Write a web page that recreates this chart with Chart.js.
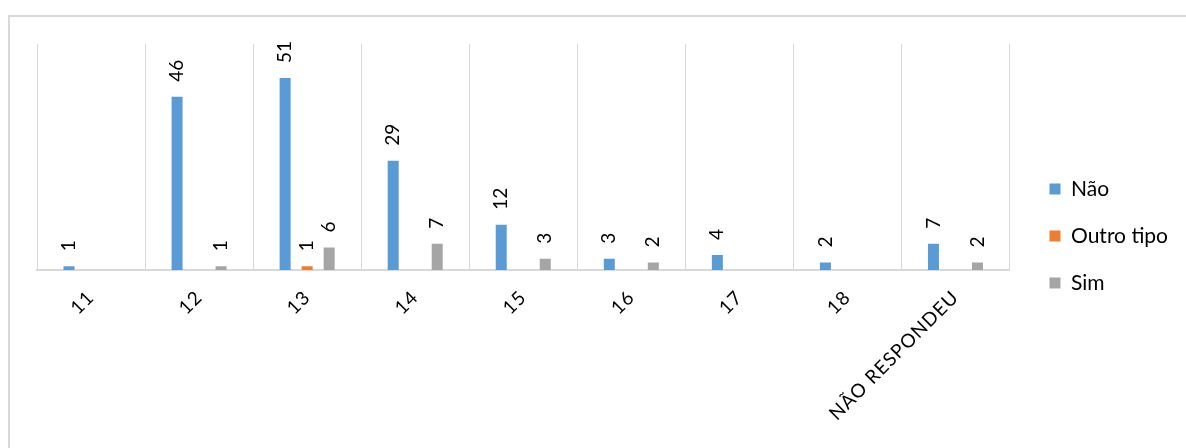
<!DOCTYPE html>
<html>
<head>
<meta charset="utf-8">
<script src="https://cdn.jsdelivr.net/npm/chart.js@4/dist/chart.umd.min.js"></script>
<style>
  html, body { margin: 0; padding: 0; background: #fff; overflow: hidden; }
  .frame { position: absolute; left: 8px; top: 15px; width: 1300px; height: 600px;
           border-left: 2px solid #d9d9d9; border-top: 2px solid #d9d9d9; }
  #chart { position: absolute; left: 0; top: 0; }
</style>
</head>
<body>
<div class="frame"></div>
<canvas id="chart" width="1186" height="448"></canvas>
<script>
const idades = ['11', '12', '13', '14', '15', '16', '17', '18', 'NÃO RESPONDEU'];
const nao = [1, 46, 51, 29, 12, 3, 4, 2, 7];
const outroTipo = [null, null, 1, null, null, null, null, null, null];
const sim = [null, 1, 6, 7, 3, 2, null, null, 2];

const FONT = 'Lato, "Open Sans", sans-serif';

// numbers written vertically above each bar
const barLabels = {
  id: 'barLabels',
  afterDatasetsDraw(chart) {
    const ctx = chart.ctx;
    ctx.save();
    ctx.font = '19px ' + FONT;
    ctx.fillStyle = '#000';
    ctx.textAlign = 'left';
    ctx.textBaseline = 'middle';
    chart.data.datasets.forEach((ds, i) => {
      chart.getDatasetMeta(i).data.forEach((bar, j) => {
        const v = ds.data[j];
        if (v == null) return;
        ctx.save();
        ctx.translate(bar.x, bar.y - 15);
        ctx.rotate(-Math.PI / 2);
        ctx.fillText(String(v), 0, 0);
        ctx.restore();
      });
    });
    ctx.restore();
  }
};

// spaced-out category labels, legend nudged away from the plot
const tweaks = {
  id: 'tweaks',
  afterLayout(chart) {
    const lg = chart.legend;
    lg.left += 14;
    lg.right += 14;
    lg.top -= 10;
    lg.bottom -= 10;
  },
  afterUpdate(chart) {
    const xs = chart.scales.x;
    if (xs._spaced) return;
    const drawLabels = xs.drawLabels;
    xs.drawLabels = function (area) {
      const c = this.ctx;
      c.save();
      c.letterSpacing = '1px';
      drawLabels.call(this, area);
      c.restore();
    };
    xs._spaced = true;
  }
};

new Chart(document.getElementById('chart'), {
  type: 'bar',
  data: {
    labels: idades,
    datasets: [
      { label: 'Não', data: nao, backgroundColor: '#5b9bd5' },
      { label: 'Outro tipo', data: outroTipo, backgroundColor: '#ed7d31' },
      { label: 'Sim', data: sim, backgroundColor: '#a5a5a5' }
    ]
  },
  options: {
    responsive: false,
    animation: false,
    categoryPercentage: 0.611,
    barPercentage: 0.5,
    layout: { padding: { left: 37, top: 44, right: 22, bottom: 0 } },
    scales: {
      x: {
        grid: { color: '#d9d9d9', lineWidth: 1, drawTicks: false },
        border: { color: '#d9d9d9', width: 2 },
        ticks: {
          minRotation: 45, maxRotation: 45, padding: 16,
          color: '#000', font: { family: FONT, size: 19 }
        },
        afterFit(scale) { scale.height = 178; }
      },
      y: { display: false, min: 0, max: 60 }
    },
    plugins: {
      legend: {
        position: 'right',
        labels: {
          boxWidth: 11, boxHeight: 11, padding: 26,
          color: '#000', font: { family: FONT, size: 21 }
        }
      },
      tooltip: { enabled: false }
    }
  },
  plugins: [barLabels, tweaks]
});
</script>
</body>
</html>
